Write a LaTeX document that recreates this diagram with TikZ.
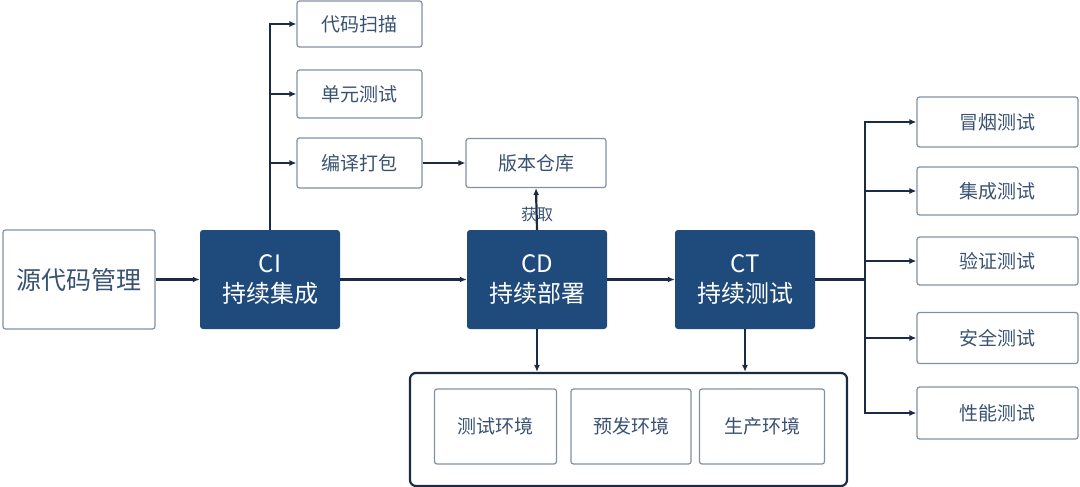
\documentclass[tikz,border=0pt]{standalone}
\usepackage{fontspec}
\setmainfont{Noto Sans CJK SC}
\usetikzlibrary{arrows.meta}
\definecolor{navy}{HTML}{1F4A7C}
\definecolor{linec}{HTML}{1B2B45}
\definecolor{boxborder}{HTML}{8290A4}
\definecolor{boxtext}{HTML}{3A5272}
\tikzset{
  lightbox/.style={draw=boxborder, line width=1.2pt, rounded corners=2.5pt, fill=white, text=boxtext, inner sep=0pt, font=\fontsize{19}{22}\selectfont},
  darkbox/.style={fill=navy, rounded corners=3pt, text=white, inner sep=0pt, align=center, font=\fontsize{24}{30}\selectfont, minimum width=140pt, minimum height=99pt},
  arr/.style={draw=linec, line width=2.2pt, -{Latex[length=7pt,width=6pt]}},
  ln/.style={draw=linec, line width=2.2pt},
}
\begin{document}
\begin{tikzpicture}[x=1pt,y=-1pt]
\useasboundingbox (0,0) rectangle (1080,487);
% main row
\node[lightbox, minimum width=152pt, minimum height=99pt, font=\fontsize{25}{30}\selectfont] (src) at (79,279.5) {源代码管理};
\node[darkbox] (ci) at (270,279.5) {CI\\持续集成};
\node[darkbox] (cd) at (537,279.5) {CD\\持续部署};
\node[darkbox] (ct) at (745,279.5) {CT\\持续测试};
% CI outputs
\node[lightbox, minimum width=125pt, minimum height=46pt] (scan) at (359.5,24) {代码扫描};
\node[lightbox, minimum width=125pt, minimum height=48pt] (unit) at (359.5,94) {单元测试};
\node[lightbox, minimum width=125pt, minimum height=50pt] (build) at (359.5,163) {编译打包};
\node[lightbox, minimum width=140pt, minimum height=49pt] (repo) at (536,163) {版本仓库};
% environments
\node[draw=linec, line width=2.2pt, rounded corners=6pt, minimum width=437pt, minimum height=113pt, inner sep=0pt] (env) at (628.5,429.5) {};
\node[lightbox, minimum width=122pt, minimum height=75pt] (tenv) at (495.5,426.5) {测试环境};
\node[lightbox, minimum width=120pt, minimum height=75pt] (penv) at (631,426.5) {预发环境};
\node[lightbox, minimum width=125pt, minimum height=75pt] (prenv) at (762,426.5) {生产环境};
% tests
\node[lightbox, minimum width=161pt, minimum height=50pt] (smoke) at (997.5,122) {冒烟测试};
\node[lightbox, minimum width=161pt, minimum height=48pt] (integ) at (997.5,191) {集成测试};
\node[lightbox, minimum width=161pt, minimum height=48pt] (verify) at (997.5,261) {验证测试};
\node[lightbox, minimum width=161pt, minimum height=51pt] (secur) at (997.5,338) {安全测试};
\node[lightbox, minimum width=161pt, minimum height=52pt] (perf) at (997.5,413) {性能测试};
% connectors
\draw[arr] (src.east) -- (ci.west);
\draw[arr] (ci.east) -- (cd.west);
\draw[arr] (cd.east) -- (ct.west);
\draw[arr] (ci.north) |- (scan.west);
\draw[arr] (ci.north) |- (unit.west);
\draw[arr] (ci.north) |- (build.west);
\draw[arr] (build.east) -- (repo.west);
\draw[arr] (cd.north) -- (repo.south);
\node[text=boxtext, font=\fontsize{16}{18}\selectfont, inner sep=0pt] (fetch) at (537,214) {获取};
\draw[arr] (cd.south) -- (cd.south |- env.north);
\draw[arr] (ct.south) -- (ct.south |- env.north);
\coordinate (hub) at (865,279.5);
\draw[ln] (ct.east) -- (hub);
\draw[arr] (hub) |- (smoke.west);
\draw[arr] (hub) |- (integ.west);
\draw[arr] (hub) |- (verify.west);
\draw[arr] (hub) |- (secur.west);
\draw[arr] (hub) |- (perf.west);
\end{tikzpicture}
\end{document}
